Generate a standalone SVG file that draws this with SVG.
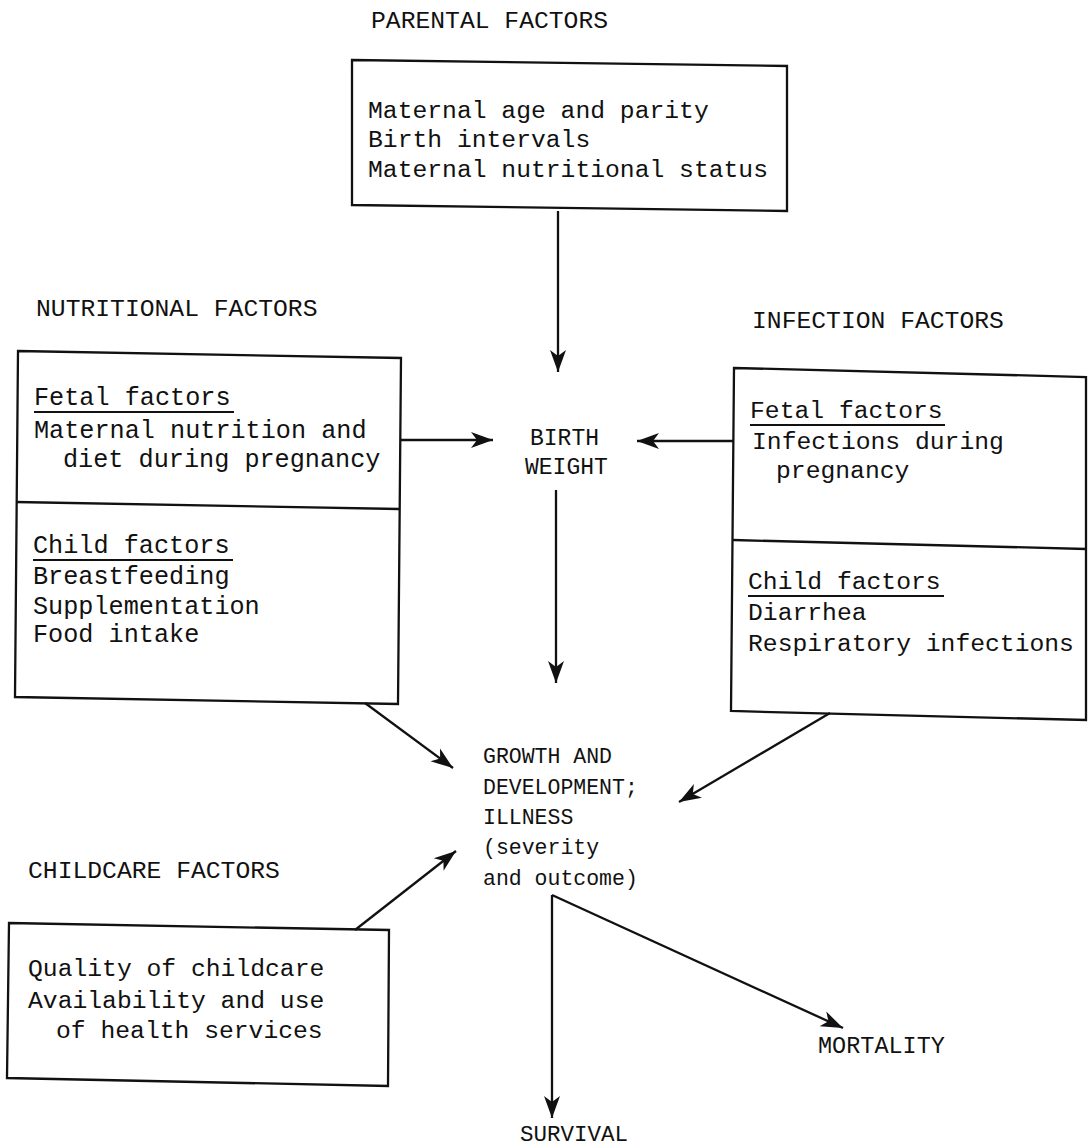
<svg xmlns="http://www.w3.org/2000/svg" width="1088" height="1148" viewBox="0 0 1088 1148">
<style>
text{font-family:"Liberation Mono","Courier New",monospace;font-size:24.7px;fill:#111}
.wide{font-size:25.2px}
.lab{font-size:21.5px}
.bw{font-size:23px}
.box{fill:none;stroke:#111;stroke-width:2.3}
.ul{stroke:#111;stroke-width:1.8}
.conn line{stroke:#111;stroke-width:2.3;marker-end:url(#ah)}
</style>
<defs>
<marker id="ah" markerUnits="userSpaceOnUse" markerWidth="26" markerHeight="20" viewBox="-24 -10 26 20" refX="0" refY="0" orient="auto">
<path d="M0,0 L-22,-8 L-16,0 L-22,8 Z" fill="#111"/>
</marker>
</defs>
<rect width="1088" height="1148" fill="#fff"/>

<g id="parental">
<text x="371" y="28">PARENTAL FACTORS</text>
<path class="box" d="M352,60 L787,66 L787,211 L352,205 Z"/>
<text x="368" y="118">Maternal age and parity</text>
<text x="368" y="147">Birth intervals</text>
<text x="368" y="177">Maternal nutritional status</text>
</g>

<g id="nutritional">
<text x="36" y="316">NUTRITIONAL FACTORS</text>
<path class="box" d="M18,351 L401,358 L398,704 L15,697 Z"/>
<path class="box" d="M16,502 L399,509"/>
<text class="wide" x="34" y="405">Fetal factors</text>
<line class="ul" x1="34" y1="412" x2="234" y2="412"/>
<text class="wide" x="34" y="438">Maternal nutrition and</text>
<text class="wide" x="63" y="467">diet during pregnancy</text>
<text class="wide" x="33" y="553">Child factors</text>
<line class="ul" x1="33" y1="560" x2="233" y2="560"/>
<text class="wide" x="33" y="584">Breastfeeding</text>
<text class="wide" x="33" y="614">Supplementation</text>
<text class="wide" x="33" y="642">Food intake</text>
</g>

<g id="infection">
<text x="752" y="328">INFECTION FACTORS</text>
<path class="box" d="M734,368 L1086,377 L1086,720 L731,711 Z"/>
<path class="box" d="M733,540 L1086,549"/>
<text x="750" y="418">Fetal factors</text>
<line class="ul" x1="750" y1="425" x2="945" y2="425"/>
<text x="752" y="449">Infections during</text>
<text x="776" y="478">pregnancy</text>
<text x="748" y="589">Child factors</text>
<line class="ul" x1="748" y1="596" x2="944" y2="596"/>
<text x="748" y="620">Diarrhea</text>
<text x="748" y="651">Respiratory infections</text>
</g>

<g id="birthweight">
<text class="bw" x="530" y="445">BIRTH</text>
<text class="bw" x="525" y="474">WEIGHT</text>
</g>

<g id="growth">
<text class="lab" x="483" y="763">GROWTH AND</text>
<text class="lab" x="483" y="794">DEVELOPMENT;</text>
<text class="lab" x="483" y="824">ILLNESS</text>
<text class="lab" x="483" y="854">(severity</text>
<text class="lab" x="483" y="885">and outcome)</text>
</g>

<g id="childcare">
<text x="28" y="878">CHILDCARE FACTORS</text>
<path class="box" d="M9,923 L389,930 L388,1086 L7,1078 Z"/>
<text x="28" y="976">Quality of childcare</text>
<text x="28" y="1008">Availability and use</text>
<text x="56" y="1038">of health services</text>
</g>

<g id="mortality">
<text class="lab" x="818" y="1053" style="font-size:23.5px">MORTALITY</text>
</g>

<g id="survival">
<text class="lab" x="520" y="1141" style="font-size:22.5px">SURVIVAL</text>
</g>

<g id="connectors" class="conn">
<line x1="558" y1="211" x2="558" y2="372"/>
<line x1="400" y1="440" x2="493" y2="440"/>
<line x1="733" y1="441" x2="637" y2="441"/>
<line x1="556" y1="490" x2="556" y2="683"/>
<line x1="365" y1="703" x2="453" y2="768"/>
<line x1="830" y1="713" x2="679" y2="802"/>
<line x1="355" y1="930" x2="456" y2="851"/>
<line x1="552" y1="895" x2="552" y2="1118"/>
<line x1="552" y1="895" x2="843" y2="1028"/>
</g>
</svg>
